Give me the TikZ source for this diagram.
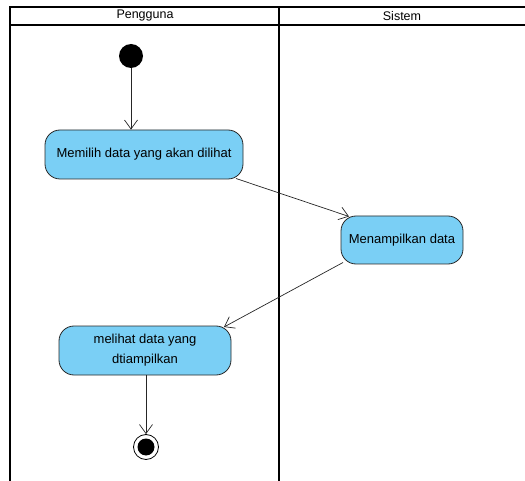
\documentclass[tikz,border=0pt]{standalone}
\usepackage{fontspec}
\setmainfont{Liberation Sans}
\usetikzlibrary{arrows.meta}
\definecolor{actfill}{RGB}{122,207,245}
\definecolor{actline}{RGB}{40,40,40}

\begin{document}
\begin{tikzpicture}[x=1pt,y=-1pt,
  action/.style={draw=actline,fill=actfill,rounded corners=15pt,line width=0.8pt,
    font=\fontsize{13}{20}\selectfont,align=center,inner sep=0pt},
  flow/.style={draw=black!85,line width=0.7pt,-{Straight Barb[length=9pt,width=13pt]}},
  lane/.style={line width=1.6pt}]
\useasboundingbox (0,0) rectangle (525,481);

% swimlanes
\draw[lane] (10,481) -- (10,7) -- (525,7);
\draw[lane] (10,25) -- (525,25);
\draw[lane] (279,7) -- (279,481);
\node at (145,16) {\fontsize{12.5}{14}\selectfont Pengguna};
\node at (402,16) {\fontsize{12.5}{14}\selectfont Sistem};

\node[circle,fill=black,minimum size=24pt,inner sep=0pt] (start) at (131,56) {};

\node[action,minimum width=198pt,minimum height=49pt] (pilih) at (144,154.5) {Memilih data yang akan dilihat};
\node[action,minimum width=122pt,minimum height=48pt] (tampil) at (402,240) {Menampilkan data};
\node[action,minimum width=172pt,minimum height=49pt] (lihat) at (145,350.5) {melihat data yang\\dtiampilkan};

\node[circle,draw,line width=0.8pt,minimum size=25pt,inner sep=0pt] (end) at (146,447) {};
\fill (end.center) circle (8.5);

\draw[flow] (start) -- (start |- pilih.north);
\draw[flow] (236,178.5) -- (349,216.5);
\draw[flow] (343,262.5) -- (224,327);
\draw[flow] (lihat.south -| end) -- (end.north);

\end{tikzpicture}
\end{document}
